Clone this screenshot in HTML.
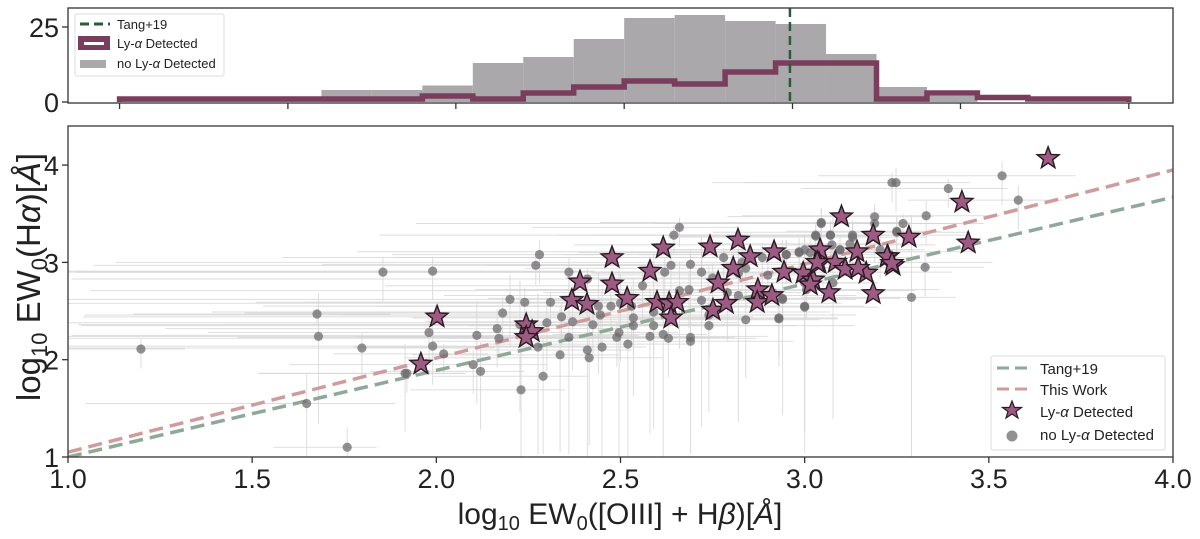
<!DOCTYPE html>
<html><head><meta charset="utf-8">
<style>
html,body{margin:0;padding:0;background:#fff;}
svg{display:block;font-family:"Liberation Sans",sans-serif;}
</style></head>
<body>
<svg id="fig" width="1200" height="539" viewBox="0 0 1200 539" xmlns="http://www.w3.org/2000/svg">
<defs>
<clipPath id="mainclip"><rect x="68" y="126" width="1105" height="331"/></clipPath>
</defs>
<g id="hist"></g>
<g id="main"></g>
</svg>
<script>
// ---------- DATA ----------
const histTicks = [1.14, 1.597, 2.053, 2.51, 2.967, 3.423, 3.88];
const histBinStart = 1.14;
const histBinWidth = 0.137;
const histNoLya = [1, 1, 1, 1, 4, 4, 5.5, 13, 15, 21, 28, 29, 27, 26, 16, 5, 2, 0, 0, 0];
const histLya   = [1, 1, 1, 1, 1, 1, 2, 1, 3, 5, 7, 6, 10, 13, 13, 1, 3, 1.5, 1, 1];
const histYTicks = [0, 25];
const tangMedian = 2.96;

const xTicks = [1.0, 1.5, 2.0, 2.5, 3.0, 3.5, 4.0];
const xTickLabels = ["1.0","1.5","2.0","2.5","3.0","3.5","4.0"];
const yTicks = [1, 2, 3, 4];
const tangLine = [[1.0, 1.0], [4.0, 3.67]];
const thisWorkLine = [[1.0, 1.05], [4.0, 3.95]];

// gray points: [x, y, xerr, yerr]
const noLyaPts = [
[1.198,2.11,0.3,0.2],[1.676,2.47,0.5,0.1],[1.68,2.24,1.2,0.9],[1.648,1.55,0.6,0.6],[1.758,1.10,0.2,0.4],
[1.798,2.12,0.9,0.3],[1.855,2.90,1.2,0.3],[1.915,1.86,0.4,0.6],[1.99,2.91,1.1,0.3],[1.98,2.28,0.6,0.3],
[1.99,2.14,1.1,0.4],[2.02,2.06,0.3,0.2],[1.92,1.86,0.4,0.2],[2.11,2.25,1.1,0.7],[2.10,1.95,0.5,0.3],
[2.12,1.88,0.3,0.6],[2.165,2.32,0.9,0.4],[2.17,2.22,1.2,0.2],[2.18,2.48,0.7,0.3],[2.20,2.62,1.2,0.5],
[2.24,2.59,0.6,0.3],[2.227,2.36,1.2,0.9],[2.28,3.08,0.4,0.3],[2.27,2.97,1.2,0.2],[2.276,2.13,0.5,1.1],
[2.29,1.83,0.3,0.8],[2.23,1.69,0.3,0.9],[2.30,2.38,1.3,0.5],[2.31,2.59,0.8,0.2],[2.336,2.05,0.4,1.0],
[2.34,2.44,1.3,0.3],[2.36,2.90,0.5,0.3],[2.36,2.23,0.9,1.2],[2.37,2.39,0.4,0.5],[2.41,2.83,1.4,0.2],
[2.41,2.10,0.3,1.1],[2.415,2.02,0.5,0.9],[2.425,2.36,1.0,0.3],[2.44,2.55,0.6,0.7],[2.445,2.46,1.4,0.3],
[2.45,2.13,0.3,1.2],[2.474,2.55,0.8,0.3],[2.50,2.58,1.5,0.6],[2.496,2.28,0.4,1.3],[2.49,2.23,0.7,0.3],
[2.52,2.16,0.4,1.2],[2.53,2.55,1.0,0.4],[2.535,2.43,0.6,0.8],[2.535,2.35,1.5,0.3],[2.56,2.76,0.7,0.4],
[2.59,2.49,1.2,1.2],[2.59,2.35,0.5,0.3],[2.58,2.24,0.8,1.0],[2.616,2.26,0.3,1.3],[2.63,2.22,0.6,0.4],
[2.62,2.90,1.6,0.3],[2.637,2.97,0.5,0.3],[2.645,3.28,0.8,0.2],[2.66,3.36,0.4,0.2],[2.66,2.71,1.6,0.6],
[2.686,2.72,0.5,0.4],[2.69,2.23,0.3,1.2],[2.69,2.19,0.7,0.3],[2.69,2.98,1.0,0.3],[2.72,2.90,1.7,0.4],
[2.72,2.61,0.4,1.3],[2.74,2.35,0.6,0.3],[2.74,2.46,1.0,1.0],[2.75,2.84,0.4,0.3],[2.78,3.05,1.2,0.2],
[2.79,2.69,0.5,0.5],[2.82,2.66,0.8,1.3],[2.82,2.89,0.4,0.3],[2.83,3.00,1.7,0.3],[2.84,2.94,0.6,0.4],
[2.84,2.41,0.5,0.6],[2.885,3.05,1.0,0.3],[2.90,2.87,0.5,0.3],[2.93,2.43,0.4,0.5],[2.94,2.63,0.8,1.2],
[2.95,3.08,0.6,0.3],[2.985,3.11,1.2,0.2],[3.0,3.13,0.4,0.3],[3.0,2.54,0.5,1.5],[3.005,2.72,0.9,0.3],
[3.03,3.28,0.6,0.2],[3.045,3.40,1.1,0.3],[3.07,3.28,0.4,0.3],[3.074,3.18,0.7,0.2],[3.096,3.13,0.3,0.3],
[3.13,3.28,0.8,0.3],[3.19,3.47,0.4,0.2],[3.19,3.40,0.6,0.4],[3.25,3.31,0.5,0.3],[3.237,3.82,0.4,0.2],
[3.248,3.82,0.5,0.3],[3.39,3.76,0.4,0.2],[3.536,3.89,0.5,0.3],[3.58,3.64,0.3,0.3],[3.33,3.48,0.5,0.3],
[3.267,3.40,0.4,0.2],[3.25,3.32,0.3,0.3],[3.045,3.41,0.6,0.3],[3.03,3.27,0.4,0.3],[3.07,3.28,0.3,0.2],
[3.13,3.26,0.5,0.3],[3.123,3.19,0.4,0.3],[3.096,3.13,0.5,0.2],[3.205,3.13,0.3,0.3],[3.327,2.95,0.4,0.3],
[3.29,2.64,0.3,1.7],[3.0,2.55,0.4,1.3],[2.94,2.62,0.5,0.3],[2.93,2.42,0.4,0.4],[2.985,3.10,0.6,0.3],
[3.015,3.10,0.5,0.3],[3.05,3.05,0.4,0.3],[3.077,2.79,0.3,1.4],[3.0,2.79,0.5,0.3],[2.95,3.08,0.4,0.3]
];
// stars
const lyaX = [1.958,2.002,2.244,2.26,2.244,2.39,2.368,2.409,2.477,2.477,2.518,2.616,2.58,2.599,2.632,2.654,2.637,2.743,2.819,2.765,2.751,2.787,2.806,2.852,2.917,2.873,2.871,2.911,2.944,2.996,3.023,3.015,3.042,3.039,3.066,3.10,3.083,3.11,3.142,3.186,3.167,3.186,3.226,3.24,3.661,3.427,3.444,3.283,3.224,3.237,3.145,3.034];
const lyaY = [1.956,2.44,2.36,2.29,2.23,2.80,2.61,2.57,3.05,2.78,2.63,3.15,2.91,2.59,2.58,2.59,2.43,3.16,3.23,2.79,2.51,2.58,2.94,3.06,3.11,2.72,2.59,2.66,2.90,2.89,2.82,2.77,3.13,2.99,2.69,3.47,3.00,2.93,3.11,3.28,2.89,2.68,3.06,2.97,4.07,3.62,3.20,3.26,3.06,2.99,2.94,3.00];

// ---------- SCALES ----------
const X0=68, X1=1173;
const sx = v => X0 + (v-1.0)*(X1-X0)/3.0;
const MY0=457, MY1=126;
const sy = v => MY0 - (v-1.0)*97.3;
const HY0=102;
const hy = v => HY0 - v*3.0;

const NS="http://www.w3.org/2000/svg";
function mk(tag, attrs, parent){
  const e=document.createElementNS(NS,tag);
  for(const k in attrs) e.setAttribute(k,attrs[k]);
  parent.appendChild(e); return e;
}
const hist=document.getElementById('hist');
const main=document.getElementById('main');

// ---------- HISTOGRAM ----------
histNoLya.forEach((c,i)=>{
  if(c<=0) return;
  const x0=sx(histBinStart+i*histBinWidth), x1=sx(histBinStart+(i+1)*histBinWidth);
  const r=mk('rect',{x:x0,y:hy(c),width:x1-x0,height:HY0-hy(c),fill:'#aaa8ab'},hist);
  
  
});
let d='';
histLya.forEach((c,i)=>{
  const x0=sx(histBinStart+i*histBinWidth), x1=sx(histBinStart+(i+1)*histBinWidth);
  d += (i===0?`M${x0},${HY0} L${x0},${hy(c)}`:` L${x0},${hy(c)}`) + ` L${x1},${hy(c)}`;
  if(i===histLya.length-1) d+=` L${x1},${HY0}`;
});
const step=mk('path',{d:d,fill:'none',stroke:'#7b3d5c','stroke-width':5.5,'stroke-linejoin':'miter'},hist);


const tl=mk('line',{x1:sx(tangMedian),x2:sx(tangMedian),y1:8,y2:103,stroke:'#2e5a3c','stroke-width':2.5,'stroke-dasharray':'9,5'},hist);


const hframe=mk('rect',{x:X0,y:8,width:X1-X0,height:95,fill:'none',stroke:'#333','stroke-width':1.3},hist);


histTicks.forEach(t=>{
  const l=mk('line',{x1:sx(t),x2:sx(t),y1:103,y2:109,stroke:'#333','stroke-width':1.3},hist);
  
  
});
histYTicks.forEach(t=>{
  const l=mk('line',{x1:X0-6,x2:X0,y1:hy(t),y2:hy(t),stroke:'#333','stroke-width':1.3},hist);
  
  
  const tx=mk('text',{x:X0-9,y:hy(t)+10,'text-anchor':'end','font-size':27,fill:'#222'},hist);
  tx.textContent=t;
  
  
});
// hist legend
const hl=mk('g',{},hist);


mk('rect',{x:75,y:14,width:149,height:62,fill:'#fff',stroke:'#ddd','stroke-width':1,rx:2},hl);
mk('line',{x1:80,x2:110,y1:24,y2:24,stroke:'#2e5a3c','stroke-width':3,'stroke-dasharray':'9,5'},hl);
mk('rect',{x:78,y:36,width:32,height:14,fill:'#7b3d5c'},hl);
mk('rect',{x:84,y:42,width:20,height:3,fill:'#fff'},hl);
mk('rect',{x:80,y:60,width:26,height:8,fill:'#aaa8ab'},hl);
let t1=mk('text',{x:117,y:29,'font-size':13,fill:'#222'},hl); t1.textContent='Tang+19';
let t2=mk('text',{x:117,y:48,'font-size':13,fill:'#222'},hl); t2.innerHTML='Ly-<tspan font-style="italic">α</tspan> Detected';
let t3=mk('text',{x:117,y:68,'font-size':13,fill:'#222'},hl); t3.innerHTML='no Ly-<tspan font-style="italic">α</tspan> Detected';

// ---------- MAIN PANEL ----------
const plot=mk('g',{'clip-path':'url(#mainclip)'},main);


noLyaPts.forEach(p=>{
  const h=mk('line',{x1:sx(p[0]-p[2]),x2:sx(p[0]+p[2]*0.4),y1:sy(p[1]),y2:sy(p[1]),stroke:'#d6d6d6','stroke-width':1,opacity:0.8},plot);
  
  
  const v=mk('line',{x1:sx(p[0]),x2:sx(p[0]),y1:sy(p[1]-p[3]),y2:sy(p[1]+p[3]*0.5),stroke:'#d6d6d6','stroke-width':1,opacity:0.8},plot);
  
  
});
const tg=mk('line',{x1:sx(tangLine[0][0]),y1:sy(tangLine[0][1]),x2:sx(tangLine[1][0]),y2:sy(tangLine[1][1]),stroke:'#8fa897','stroke-width':3.5,'stroke-dasharray':'14,7'},plot);


const tw=mk('line',{x1:sx(thisWorkLine[0][0]),y1:sy(thisWorkLine[0][1]),x2:sx(thisWorkLine[1][0]),y2:sy(thisWorkLine[1][1]),stroke:'#cf9c9e','stroke-width':3.5,'stroke-dasharray':'14,7'},plot);


noLyaPts.forEach(p=>{
  const c=mk('circle',{cx:sx(p[0]),cy:sy(p[1]),r:4.6,fill:'#6e6b6e','fill-opacity':0.75},plot);
  
  
});
function starPath(cx,cy,R){
  const r=R*0.42; let s='';
  for(let i=0;i<10;i++){
    const a=-Math.PI/2+i*Math.PI/5, rr=i%2?r:R;
    s+=(i?'L':'M')+(cx+rr*Math.cos(a)).toFixed(1)+','+(cy+rr*Math.sin(a)).toFixed(1);
  }
  return s+'Z';
}
lyaX.forEach((x,i)=>{
  const s=mk('path',{d:starPath(sx(x),sy(lyaY[i]),11.5),fill:'#9d5a82',stroke:'#2a1a22','stroke-width':1.4,'stroke-linejoin':'miter'},plot);
  
  
});
const mf=mk('rect',{x:X0,y:MY1,width:X1-X0,height:MY0-MY1,fill:'none',stroke:'#444','stroke-width':1.4},main);


xTicks.forEach((t,i)=>{
  const l=mk('line',{x1:sx(t),x2:sx(t),y1:MY0,y2:MY0+6,stroke:'#333','stroke-width':1.3},main);
  
  
  const tx=mk('text',{x:sx(t),y:488,'text-anchor':'middle','font-size':27,fill:'#222'},main);
  tx.textContent=xTickLabels[i];
  
  
});
yTicks.forEach(t=>{
  const l=mk('line',{x1:X0-6,x2:X0,y1:sy(t),y2:sy(t),stroke:'#333','stroke-width':1.3},main);
  
  
  const tx=mk('text',{x:X0-9,y:sy(t)+10,'text-anchor':'end','font-size':27,fill:'#222'},main);
  tx.textContent=t;
  
  
});

const fig=document.getElementById('fig');
const xl=document.createElementNS(NS,'text');
xl.setAttribute('x','620');xl.setAttribute('y','524');xl.setAttribute('text-anchor','middle');xl.setAttribute('font-size','30');xl.setAttribute('fill','#222');


xl.innerHTML='log<tspan font-size="20" dy="6">10</tspan><tspan dy="-6"> EW</tspan><tspan font-size="20" dy="6">0</tspan><tspan dy="-6">([OIII] + H</tspan><tspan font-style="italic">β</tspan>)[<tspan font-style="italic">Å</tspan>]';
fig.appendChild(xl);
const yl=document.createElementNS(NS,'text');
yl.setAttribute('transform','translate(40,277) rotate(-90)');yl.setAttribute('text-anchor','middle');yl.setAttribute('font-size','33');yl.setAttribute('fill','#222');


yl.innerHTML='log<tspan font-size="22" dy="7">10</tspan><tspan dy="-7"> EW</tspan><tspan font-size="22" dy="7">0</tspan><tspan dy="-7">(H</tspan><tspan font-style="italic">α</tspan>)[<tspan font-style="italic">Å</tspan>]';
fig.appendChild(yl);
const lg=document.createElementNS(NS,'g');


lg.innerHTML=
'<rect x="991" y="356" width="174" height="94" fill="#fff" stroke="#ddd" stroke-width="1" rx="2"/>'+
'<line x1="997" y1="368" x2="1027" y2="368" stroke="#8fa897" stroke-width="3" stroke-dasharray="12,6"/>'+
'<line x1="997" y1="389" x2="1027" y2="389" stroke="#cf9c9e" stroke-width="3" stroke-dasharray="12,6"/>'+
'<path d="M1012,401 L1014.5,407.5 L1021.5,407.5 L1016,411.5 L1018,418 L1012,414 L1006,418 L1008,411.5 L1002.5,407.5 L1009.5,407.5 Z" fill="#9d5a82" stroke="#2a1a22" stroke-width="1.2"/>'+
'<circle cx="1012" cy="436" r="5.5" fill="#6e6b6e" fill-opacity="0.75"/>'+
'<text x="1040" y="374" font-size="15" fill="#222">Tang+19</text>'+
'<text x="1040" y="395" font-size="15" fill="#222">This Work</text>'+
'<text x="1040" y="417" font-size="15" fill="#222">Ly-<tspan font-style="italic">α</tspan> Detected</text>'+
'<text x="1040" y="440" font-size="15" fill="#222">no Ly-<tspan font-style="italic">α</tspan> Detected</text>';
fig.appendChild(lg);
</script>
</body></html>
